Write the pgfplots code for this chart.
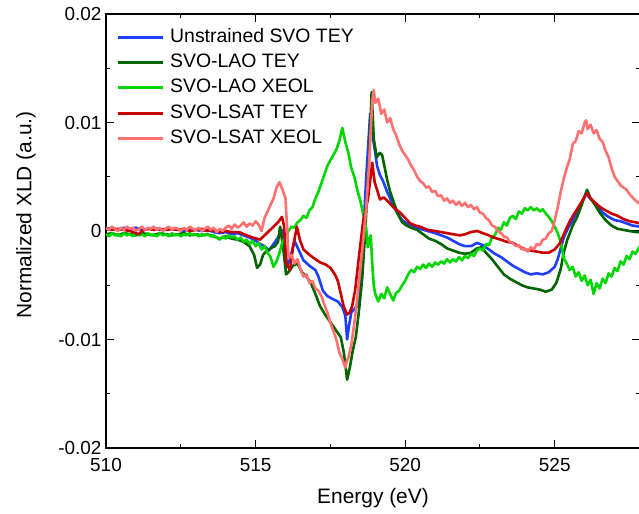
\documentclass[border=0pt]{standalone}
\usepackage{fontspec}
\setmainfont{Liberation Sans}
\usepackage{pgfplots}
\pgfplotsset{compat=1.18}
\usetikzlibrary{calc}
\definecolor{cblue}{RGB}{31,63,255}
\definecolor{cdgreen}{RGB}{0,100,0}
\definecolor{clgreen}{RGB}{0,215,0}
\definecolor{cred}{RGB}{200,0,0}
\definecolor{cpink}{RGB}{255,112,112}
\begin{document}
\begin{tikzpicture}
\begin{axis}[
  scale only axis, width=534bp, height=434bp,
  xmin=510, xmax=527.85, ymin=-0.02, ymax=0.02,
  xtick={510,515,520,525}, xticklabels={510,515,520,525},
  ytick={-0.02,-0.01,0,0.01,0.02}, yticklabels={-0.02,-0.01,0,0.01,0.02},
  minor x tick num=1, minor y tick num=1,
  tick align=inside, major tick length=8bp, minor tick length=4bp,
  every tick/.style={black, line width=1bp},
  axis line style={line width=1.5bp},
  tick label style={font=\fontsize{19}{21}\selectfont},
  xticklabel style={yshift=-7bp},
  yticklabel style={xshift=-1bp},
  scaled y ticks=false,
  xlabel={Energy (eV)}, ylabel={Normalized XLD (a.u.)},
  label style={font=\fontsize{21}{24}\selectfont},
  xlabel style={at={(rel axis cs:0.5,0)}, anchor=center, yshift=-50bp},
  ylabel style={at={(rel axis cs:0,0.5)}, anchor=center, xshift=16bp, yshift=80bp},
  no markers,
  every axis plot/.append style={line width=2.6bp, line join=round},
  legend cell align=left,
  legend style={draw=none, fill=none, inner sep=0pt, at={(rel axis cs:0,1)}, anchor=north west,
    xshift=10bp, yshift=-13bp, font=\fontsize{19.5}{22}\selectfont, column sep=5bp, row sep=5.3bp,
    nodes={inner sep=1bp, text height=14bp, text depth=4bp}},
  legend image code/.code={\draw[#1, line width=3bp] (0bp,0bp) -- (45bp,0bp);},
]
\coordinate (sw) at (rel axis cs:0,0);
\coordinate (ne) at (rel axis cs:1,1);
% Unstrained SVO TEY
\addplot[color=cblue] coordinates {
(510.0,0.0002)(510.2,0.0003)(510.4,0.0001)(510.6,0.0003)(510.8,0.0002)(511.0,0.0003)(511.2,0.0001)(511.4,0.0002)(511.6,0.0003)(511.8,0.0001)(512.0,0.0002)(512.2,0.0001)(512.4,0.0002)(512.6,0.0000)(512.8,0.0002)(513.0,0.0001)(513.2,0.0000)(513.4,0.0001)(513.6,-0.0001)(513.8,-0.0002)(514.0,-0.0001)(514.2,-0.0003)(514.4,-0.0002)(514.6,-0.0004)(514.8,-0.0006)(515.0,-0.0009)(515.15,-0.0012)(515.3,-0.0014)(515.45,-0.0018)(515.6,-0.0012)(515.75,-0.0006)(515.88,0.0001)(516.0,-0.0018)(516.05,-0.0033)(516.15,-0.0026)(516.3,-0.0009)(516.45,-0.0018)(516.6,-0.0027)(516.8,-0.0032)(517.0,-0.0036)(517.1,-0.0042)(517.25,-0.0055)(517.4,-0.0060)(517.6,-0.0063)(517.75,-0.0065)(517.9,-0.0070)(518.0,-0.0078)(518.06,-0.0100)(518.12,-0.0088)(518.2,-0.0075)(518.3,-0.0072)(518.43,-0.0068)(518.52,-0.0035)(518.6,-0.0002)(518.7,0.0050)(518.83,0.0108)(518.9,0.0090)(519.0,0.0072)(519.06,0.0060)(519.15,0.0052)(519.26,0.0046)(519.4,0.0036)(519.5,0.0030)(519.6,0.0023)(519.75,0.0016)(519.9,0.0010)(520.1,0.0006)(520.3,0.0004)(520.5,0.0002)(520.75,0.0000)(521.0,-0.0002)(521.2,-0.0004)(521.4,-0.0006)(521.6,-0.0009)(521.8,-0.0012)(522.0,-0.0014)(522.2,-0.0014)(522.4,-0.0011)(522.6,-0.0013)(522.8,-0.0017)(523.0,-0.0021)(523.2,-0.0024)(523.4,-0.0028)(523.6,-0.0032)(523.8,-0.0035)(524.0,-0.0038)(524.2,-0.0040)(524.4,-0.0039)(524.6,-0.0040)(524.8,-0.0038)(525.0,-0.0033)(525.1,-0.0026)(525.2,-0.0016)(525.3,-0.0006)(525.45,0.0003)(525.6,0.0010)(525.75,0.0018)(525.9,0.0026)(526.05,0.0035)(526.15,0.0031)(526.3,0.0027)(526.45,0.0022)(526.6,0.0017)(526.8,0.0013)(527.0,0.0010)(527.2,0.0009)(527.4,0.0007)(527.6,0.0005)(527.85,0.0004)
};
\addlegendentry{Unstrained SVO TEY}
% SVO-LAO TEY
\addplot[color=cdgreen] coordinates {
(510.0,-0.0003)(510.2,-0.0002)(510.4,-0.0004)(510.6,-0.0002)(510.8,-0.0003)(511.0,-0.0004)(511.2,-0.0002)(511.4,-0.0003)(511.6,-0.0004)(511.8,-0.0002)(512.0,-0.0003)(512.2,-0.0004)(512.4,-0.0003)(512.6,-0.0002)(512.8,-0.0004)(513.0,-0.0003)(513.2,-0.0004)(513.4,-0.0003)(513.6,-0.0005)(513.8,-0.0007)(514.0,-0.0005)(514.2,-0.0007)(514.4,-0.0008)(514.6,-0.0010)(514.8,-0.0014)(514.95,-0.0022)(515.05,-0.0034)(515.15,-0.0031)(515.25,-0.0022)(515.35,-0.0019)(515.5,-0.0016)(515.65,-0.0014)(515.75,-0.0010)(515.82,0.0004)(515.92,-0.0015)(516.02,-0.0040)(516.1,-0.0038)(516.25,-0.0032)(516.4,-0.0030)(516.55,-0.0038)(516.7,-0.0042)(516.85,-0.0048)(517.0,-0.0058)(517.15,-0.0069)(517.3,-0.0076)(517.45,-0.0082)(517.6,-0.0088)(517.75,-0.0094)(517.85,-0.0098)(517.95,-0.0112)(518.06,-0.0137)(518.15,-0.0126)(518.25,-0.0110)(518.35,-0.0098)(518.45,-0.0075)(518.56,-0.0045)(518.66,-0.0003)(518.78,0.0060)(518.88,0.0128)(518.95,0.0085)(519.05,0.0068)(519.15,0.0072)(519.23,0.0070)(519.32,0.0058)(519.4,0.0047)(519.5,0.0036)(519.6,0.0028)(519.75,0.0016)(519.9,0.0008)(520.05,0.0005)(520.2,0.0003)(520.4,0.0001)(520.6,-0.0003)(520.8,-0.0007)(521.0,-0.0009)(521.2,-0.0012)(521.4,-0.0016)(521.6,-0.0018)(521.8,-0.0020)(522.0,-0.0021)(522.2,-0.0020)(522.4,-0.0016)(522.55,-0.0015)(522.7,-0.0020)(522.9,-0.0026)(523.1,-0.0033)(523.3,-0.0040)(523.5,-0.0044)(523.7,-0.0047)(523.9,-0.0050)(524.1,-0.0052)(524.3,-0.0053)(524.5,-0.0054)(524.7,-0.0056)(524.9,-0.0054)(525.05,-0.0048)(525.2,-0.0035)(525.3,-0.0020)(525.42,-0.0008)(525.6,0.0005)(525.75,0.0013)(525.9,0.0024)(526.08,0.0038)(526.2,0.0030)(526.35,0.0024)(526.5,0.0017)(526.7,0.0010)(526.9,0.0005)(527.1,0.0002)(527.3,0.0001)(527.5,0.0000)(527.7,-0.0001)(527.85,-0.0001)
};
\addlegendentry{SVO-LAO TEY}
% SVO-LAO XEOL
\addplot[color=clgreen] coordinates {
(510.0,-0.0003)(510.1,-0.0005)(510.2,-0.0002)(510.3,-0.0004)(510.4,-0.0003)(510.5,-0.0005)(510.6,-0.0002)(510.7,-0.0004)(510.8,-0.0003)(510.9,-0.0005)(511.0,-0.0002)(511.1,-0.0004)(511.2,-0.0003)(511.3,-0.0005)(511.4,-0.0002)(511.5,-0.0004)(511.6,-0.0003)(511.7,-0.0005)(511.8,-0.0002)(511.9,-0.0004)(512.0,-0.0003)(512.1,-0.0005)(512.2,-0.0002)(512.3,-0.0004)(512.4,-0.0003)(512.5,-0.0005)(512.6,-0.0003)(512.7,-0.0004)(512.8,-0.0002)(512.9,-0.0004)(513.0,-0.0003)(513.1,-0.0005)(513.2,-0.0003)(513.3,-0.0004)(513.4,-0.0003)(513.5,-0.0005)(513.6,-0.0004)(513.7,-0.0006)(513.8,-0.0008)(513.9,-0.0005)(514.0,-0.0007)(514.1,-0.0004)(514.2,-0.0006)(514.3,-0.0005)(514.4,-0.0008)(514.5,-0.0006)(514.6,-0.0010)(514.7,-0.0008)(514.8,-0.0012)(514.9,-0.0009)(515.0,-0.0014)(515.1,-0.0011)(515.2,-0.0017)(515.3,-0.0014)(515.4,-0.0020)(515.5,-0.0024)(515.6,-0.0033)(515.7,-0.0028)(515.8,-0.0020)(515.9,-0.0010)(516.0,-0.0006)(516.1,0.0000)(516.2,0.0004)(516.3,0.0003)(516.4,0.0008)(516.5,0.0010)(516.6,0.0014)(516.7,0.0012)(516.8,0.0019)(516.9,0.0022)(517.0,0.0030)(517.1,0.0036)(517.2,0.0044)(517.3,0.0052)(517.4,0.0060)(517.5,0.0065)(517.6,0.0070)(517.7,0.0075)(517.8,0.0083)(517.9,0.0095)(518.0,0.0082)(518.1,0.0072)(518.2,0.0058)(518.3,0.0050)(518.4,0.0038)(518.5,0.0028)(518.6,0.0015)(518.7,0.0002)(518.75,-0.0015)(518.8,-0.0008)(518.85,-0.0004)(518.9,-0.0030)(518.95,-0.0050)(519.0,-0.0058)(519.1,-0.0065)(519.2,-0.0058)(519.3,-0.0062)(519.4,-0.0052)(519.5,-0.0058)(519.6,-0.0064)(519.7,-0.0057)(519.8,-0.0055)(519.9,-0.0050)(520.0,-0.0046)(520.1,-0.0040)(520.2,-0.0036)(520.3,-0.0038)(520.4,-0.0033)(520.5,-0.0035)(520.6,-0.0031)(520.7,-0.0034)(520.8,-0.0030)(520.9,-0.0033)(521.0,-0.0029)(521.1,-0.0031)(521.2,-0.0028)(521.3,-0.0030)(521.4,-0.0026)(521.5,-0.0029)(521.6,-0.0026)(521.7,-0.0028)(521.8,-0.0024)(521.9,-0.0027)(522.0,-0.0023)(522.1,-0.0025)(522.2,-0.0021)(522.3,-0.0023)(522.4,-0.0018)(522.5,-0.0016)(522.6,-0.0018)(522.7,-0.0012)(522.8,-0.0013)(522.9,-0.0006)(523.0,-0.0004)(523.1,0.0003)(523.2,0.0001)(523.3,0.0008)(523.4,0.0005)(523.5,0.0012)(523.6,0.0014)(523.7,0.0011)(523.8,0.0018)(523.9,0.0016)(524.0,0.0021)(524.1,0.0019)(524.2,0.0022)(524.3,0.0019)(524.4,0.0021)(524.5,0.0018)(524.6,0.0020)(524.7,0.0016)(524.8,0.0013)(524.9,0.0009)(525.0,0.0004)(525.1,-0.0002)(525.2,-0.0010)(525.3,-0.0025)(525.4,-0.0030)(525.5,-0.0036)(525.6,-0.0033)(525.7,-0.0042)(525.8,-0.0038)(525.9,-0.0046)(526.0,-0.0041)(526.1,-0.0050)(526.2,-0.0045)(526.3,-0.0058)(526.4,-0.0048)(526.5,-0.0053)(526.6,-0.0044)(526.7,-0.0048)(526.8,-0.0039)(526.9,-0.0042)(527.0,-0.0034)(527.1,-0.0037)(527.2,-0.0028)(527.3,-0.0031)(527.4,-0.0023)(527.5,-0.0026)(527.6,-0.0019)(527.7,-0.0021)(527.85,-0.0014)
};
\addlegendentry{SVO-LAO XEOL}
% SVO-LSAT TEY
\addplot[color=cred] coordinates {
(510.0,0.0002)(510.2,0.0001)(510.4,0.0002)(510.6,0.0001)(510.8,0.0000)(511.0,-0.0002)(511.1,-0.0003)(511.2,0.0000)(511.4,0.0002)(511.6,0.0001)(511.8,0.0002)(512.0,0.0001)(512.2,0.0002)(512.4,0.0001)(512.6,0.0002)(512.8,0.0000)(513.0,0.0001)(513.2,0.0002)(513.4,0.0000)(513.6,0.0001)(513.8,-0.0001)(514.0,0.0000)(514.2,-0.0001)(514.45,-0.0001)(514.7,-0.0004)(514.9,-0.0006)(515.15,-0.0008)(515.3,-0.0004)(515.45,0.0000)(515.6,0.0004)(515.75,0.0008)(515.88,0.0013)(515.95,0.0005)(516.03,-0.0030)(516.15,-0.0036)(516.25,-0.0015)(516.38,0.0004)(516.48,-0.0008)(516.6,-0.0017)(516.8,-0.0022)(517.0,-0.0026)(517.16,-0.0029)(517.35,-0.0031)(517.5,-0.0034)(517.65,-0.0040)(517.75,-0.0046)(517.85,-0.0058)(517.95,-0.0070)(518.06,-0.0077)(518.15,-0.0075)(518.23,-0.0069)(518.33,-0.0054)(518.45,-0.0025)(518.6,0.0010)(518.76,0.0030)(518.9,0.0063)(518.98,0.0045)(519.06,0.0038)(519.16,0.0029)(519.28,0.0031)(519.4,0.0028)(519.6,0.0022)(519.83,0.0017)(520.0,0.0012)(520.17,0.0007)(520.35,0.0005)(520.5,0.0004)(520.75,0.0001)(521.0,0.0000)(521.2,-0.0001)(521.4,-0.0002)(521.6,-0.0003)(521.84,-0.0004)(522.0,-0.0003)(522.2,-0.0001)(522.4,0.0000)(522.6,-0.0002)(522.8,-0.0004)(522.95,-0.0006)(523.2,-0.0008)(523.4,-0.0010)(523.6,-0.0011)(523.8,-0.0014)(524.0,-0.0017)(524.2,-0.0018)(524.4,-0.0019)(524.6,-0.0020)(524.8,-0.0020)(525.0,-0.0017)(525.18,-0.0011)(525.35,0.0000)(525.52,0.0010)(525.7,0.0018)(525.9,0.0027)(526.08,0.0035)(526.2,0.0030)(526.35,0.0026)(526.52,0.0022)(526.7,0.0019)(526.9,0.0016)(527.1,0.0014)(527.3,0.0011)(527.5,0.0009)(527.7,0.0008)(527.85,0.0007)
};
\addlegendentry{SVO-LSAT TEY}
% SVO-LSAT XEOL
\addplot[color=cpink] coordinates {
(510.0,0.0003)(510.1,0.0001)(510.2,0.0004)(510.3,0.0002)(510.4,0.0000)(510.5,0.0003)(510.6,0.0001)(510.7,0.0004)(510.8,0.0002)(510.9,0.0003)(511.0,0.0000)(511.1,0.0002)(511.2,0.0004)(511.3,0.0001)(511.4,0.0003)(511.5,0.0002)(511.6,0.0004)(511.7,0.0001)(511.8,0.0003)(511.9,0.0000)(512.0,0.0002)(512.1,0.0004)(512.2,0.0001)(512.3,0.0003)(512.4,0.0002)(512.5,0.0000)(512.6,0.0003)(512.7,0.0001)(512.8,0.0004)(512.9,0.0002)(513.0,0.0001)(513.1,0.0003)(513.2,0.0000)(513.3,0.0002)(513.4,0.0004)(513.5,0.0001)(513.6,0.0003)(513.7,-0.0001)(513.8,0.0002)(513.9,0.0000)(514.0,0.0003)(514.1,0.0005)(514.2,0.0002)(514.3,0.0006)(514.4,0.0003)(514.5,0.0005)(514.6,0.0008)(514.7,0.0004)(514.8,0.0007)(514.9,0.0005)(515.0,0.0009)(515.1,0.0006)(515.2,0.0000)(515.3,0.0012)(515.4,0.0018)(515.5,0.0024)(515.6,0.0030)(515.7,0.0040)(515.8,0.0045)(515.9,0.0038)(516.0,0.0030)(516.05,0.0005)(516.1,-0.0025)(516.2,-0.0022)(516.3,-0.0030)(516.4,-0.0026)(516.5,-0.0035)(516.6,-0.0042)(516.7,-0.0040)(516.8,-0.0048)(516.9,-0.0046)(517.0,-0.0053)(517.1,-0.0055)(517.2,-0.0060)(517.3,-0.0068)(517.4,-0.0075)(517.5,-0.0085)(517.6,-0.0092)(517.7,-0.0100)(517.8,-0.0112)(517.9,-0.0118)(518.0,-0.0126)(518.05,-0.0120)(518.1,-0.0117)(518.2,-0.0105)(518.3,-0.0085)(518.4,-0.0062)(518.5,-0.0035)(518.6,-0.0008)(518.7,0.0022)(518.8,0.0065)(518.9,0.0120)(518.95,0.0130)(519.0,0.0118)(519.1,0.0122)(519.2,0.0108)(519.3,0.0112)(519.4,0.0100)(519.5,0.0104)(519.6,0.0094)(519.7,0.0088)(519.8,0.0080)(519.9,0.0074)(520.0,0.0070)(520.1,0.0066)(520.2,0.0060)(520.3,0.0056)(520.4,0.0050)(520.5,0.0046)(520.6,0.0044)(520.7,0.0040)(520.8,0.0041)(520.9,0.0036)(521.0,0.0037)(521.1,0.0032)(521.2,0.0033)(521.3,0.0028)(521.4,0.0030)(521.5,0.0026)(521.6,0.0028)(521.7,0.0024)(521.8,0.0027)(521.9,0.0023)(522.0,0.0026)(522.1,0.0022)(522.2,0.0024)(522.3,0.0020)(522.4,0.0022)(522.5,0.0017)(522.6,0.0016)(522.7,0.0012)(522.8,0.0010)(522.9,0.0005)(523.0,0.0004)(523.1,0.0000)(523.2,-0.0002)(523.3,-0.0005)(523.4,-0.0006)(523.5,-0.0010)(523.6,-0.0011)(523.7,-0.0014)(523.8,-0.0013)(523.9,-0.0017)(524.0,-0.0016)(524.1,-0.0019)(524.2,-0.0015)(524.3,-0.0017)(524.4,-0.0012)(524.5,-0.0013)(524.6,-0.0008)(524.7,-0.0007)(524.8,-0.0002)(524.9,0.0000)(525.0,0.0010)(525.1,0.0022)(525.2,0.0036)(525.3,0.0048)(525.4,0.0058)(525.5,0.0066)(525.6,0.0080)(525.7,0.0083)(525.8,0.0092)(525.9,0.0090)(526.0,0.0100)(526.05,0.0102)(526.1,0.0094)(526.2,0.0098)(526.3,0.0090)(526.4,0.0093)(526.5,0.0085)(526.6,0.0082)(526.7,0.0074)(526.8,0.0068)(526.9,0.0058)(527.0,0.0050)(527.1,0.0046)(527.2,0.0042)(527.3,0.0040)(527.4,0.0038)(527.5,0.0034)(527.6,0.0031)(527.7,0.0028)(527.85,0.0025)
};
\addlegendentry{SVO-LSAT XEOL}
\end{axis}
\pgfresetboundingbox
\path[use as bounding box] ($(sw)+(-106bp,-66bp)$) rectangle ($(ne)+(-1bp,14bp)$);
\end{tikzpicture}
\end{document}
